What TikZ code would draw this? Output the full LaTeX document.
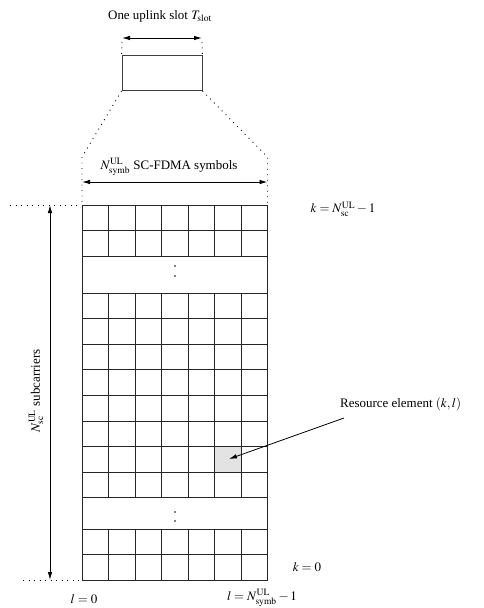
\documentclass[tikz,border=0pt]{standalone}
\usepackage{mathptmx}
\usepackage[no-math]{fontspec}
\setmainfont{Liberation Serif}
\usepackage{tikz}
\usetikzlibrary{positioning,arrows.meta}
\tikzstyle{txt}=[font=\fontsize{13}{15}\selectfont, inner sep=1bp]
\tikzstyle{myarrow}=[<->, >={Latex[length=8bp,width=4.5bp]}, line width=0.9bp]
\tikzstyle{pointer}=[->, >={Latex[length=8bp,width=4.5bp]}, line width=0.8bp]
\tikzstyle{guide}=[line width=0.9bp, dash pattern=on 0.9bp off 4.6bp]
\tikzstyle{cell}=[line width=0.9bp, draw=black!85]

\begin{document}
\begin{tikzpicture}[x=1bp,y=-1bp]
    \useasboundingbox (0,0) rectangle (484,608);
    % corners of the resource grid
    \coordinate (NW) at (82,205);
    \coordinate (NE) at (267.5,205);
    \coordinate (SW) at (82,580);
    \coordinate (SE) at (267.5,580);

    % one slot
    \node (slot) [draw=black!75, line width=0.9bp, minimum width=80bp, minimum height=35bp,
        inner sep=0pt] at (162,73) {};
    \node (title) [txt] at (160,16) {One uplink slot $T_{\mathrm{slot}}$};
    \coordinate (slotL) at (122,38);
    \coordinate (slotR) at (202,38);
    \draw[myarrow] (slotL) -- (slotR);
    \draw[guide] (122,42) -- (slot.north west);
    \draw[guide] (202,42) -- (slot.north east);
    \draw[guide] (slot.south west) -- (82,157) -- (NW);
    \draw[guide] (slot.south east) -- (267.5,157) -- (NE);

    % symbols
    \coordinate (symbL) at (82,182);
    \coordinate (symbR) at (267.5,182);
    \draw[myarrow] (symbL) -- (symbR);
    \node (symb) [txt] at (169,167) {$N_{\mathrm{symb}}^{\mathrm{UL}}$ SC-FDMA symbols};

    % subcarriers
    \coordinate (scTop) at (50,205);
    \coordinate (scBot) at (50,580);
    \draw[guide] (10,205) -- (NW);
    \draw[guide] (23,580) -- (SW);
    \draw[myarrow] (scTop) -- (scBot);
    \node (sc) [txt, rotate=90] at (36,391) {$N_{\mathrm{sc}}^{\mathrm{UL}}$ subcarriers};

    % resource element
    \fill[black!11] (82+5*26.5,293+6*25.6) rectangle ++(26.5,25.6);

    % grid blocks: top y / number of rows
    \foreach \ytop/\nrow in {205/2, 293/8, 529/2}{
        \foreach \r in {0,...,\nrow}
            \draw[cell] (82,\ytop+\r*25.6) -- (267.5,\ytop+\r*25.6);
        \foreach \c in {1,...,6}
            \draw[cell] (82+\c*26.5,\ytop) -- (82+\c*26.5,\ytop+\nrow*25.6);
    }
    \draw[cell] (NW) rectangle (SE);
    \foreach \y in {266,276,512,521}
        \fill (175,\y) circle (0.8bp);

    % labels
    \node (ktop) [txt] at (343,209) {$k=N_{\mathrm{sc}}^{\mathrm{UL}}-1$};
    \node (kbot) [txt] at (307,567) {$k=0$};
    \node (lfirst) [txt] at (84,599) {$l=0$};
    \node (llast) [txt] at (262,598) {$l=N_{\mathrm{symb}}^{\mathrm{UL}}-1$};
    \node (re) [txt, anchor=west] at (339,404) {Resource element $(k,l)$};
    \coordinate (reTip) at (229,459);
    \draw[pointer] (344,418) -- (reTip);
\end{tikzpicture}
\end{document}
